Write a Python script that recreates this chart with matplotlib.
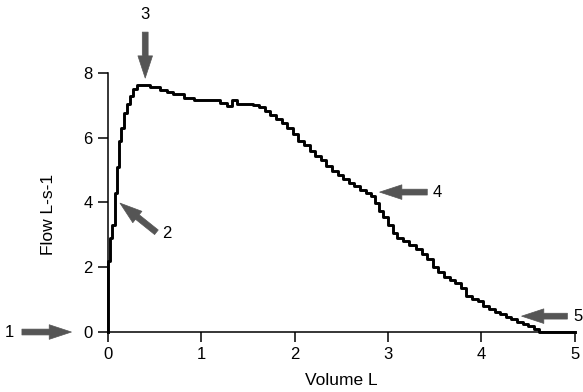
import matplotlib
matplotlib.use("Agg")
import matplotlib.pyplot as plt

plt.rcParams["font.family"] = ["Liberation Sans", "DejaVu Sans"]

# flow-volume loop (expiratory limb)
volume = [0.00, 0.00, 0.02, 0.04, 0.08, 0.10, 0.12, 0.14, 0.17, 0.20, 0.24, 0.27, 0.31,
          0.45, 0.56, 0.63, 0.70, 0.82, 0.92, 1.20, 1.28, 1.33, 1.38, 1.55, 1.62,
          1.68, 1.74, 1.80, 1.86, 1.92, 1.98, 2.04, 2.10, 2.16, 2.22, 2.28, 2.34,
          2.40, 2.46, 2.52, 2.58, 2.64, 2.70, 2.76, 2.82, 2.86, 2.90, 2.95, 3.00,
          3.05, 3.10, 3.16, 3.22, 3.30, 3.36, 3.42, 3.48, 3.54, 3.60, 3.66, 3.72,
          3.78, 3.84, 3.90, 3.96, 4.02, 4.08, 4.14, 4.20, 4.26, 4.32, 4.38, 4.44,
          4.50, 4.56, 4.62, 5.00]
flow = [0.0, 2.2, 2.9, 3.3, 4.3, 5.1, 5.9, 6.3, 6.75, 7.05, 7.3, 7.5, 7.62,
        7.57, 7.47, 7.40, 7.35, 7.22, 7.15, 7.08, 6.97, 7.15, 7.05, 7.02, 6.95,
        6.82, 6.7, 6.57, 6.45, 6.3, 6.1, 5.9, 5.78, 5.6, 5.45, 5.3, 5.12,
        4.98, 4.85, 4.72, 4.6, 4.5, 4.4, 4.3, 4.2, 3.98, 3.75, 3.55, 3.3,
        3.05, 2.9, 2.8, 2.7, 2.55, 2.4, 2.25, 2.0, 1.85, 1.7, 1.6, 1.5,
        1.35, 1.1, 1.02, 0.95, 0.8, 0.7, 0.62, 0.55, 0.47, 0.4, 0.32, 0.25,
        0.18, 0.1, 0.0, 0.0]

x_ticks = [0, 1, 2, 3, 4, 5]
y_ticks = [0, 2, 4, 6, 8]

# arrows: label, tail, tip, label position
arrows = [
    ("1", (-0.92, 0.0), (-0.39, 0.0), (-1.05, 0.0)),
    ("2", (0.52, 3.08), (0.13, 3.98), (0.63, 3.05)),
    ("3", (0.40, 9.26), (0.40, 7.84), (0.40, 9.80)),
    ("4", (3.42, 4.32), (2.91, 4.32), (3.53, 4.32)),
    ("5", (4.92, 0.49), (4.43, 0.49), (5.03, 0.49)),
]

fig = plt.figure(figsize=(5.83, 3.92), dpi=100)
ax = fig.add_axes([0.185, 0.153, 0.801, 0.661])

ax.plot(volume, flow, drawstyle="steps-post", color="black", lw=2.1,
        clip_on=False, zorder=3)

ax.set_xlim(0, 5)
ax.set_ylim(0, 8)
ax.set_xticks(x_ticks)
ax.set_yticks(y_ticks)
for s in ["top", "right"]:
    ax.spines[s].set_visible(False)
for s in ["left", "bottom"]:
    ax.spines[s].set_linewidth(1.1)
ax.tick_params(direction="out", length=7, width=1.1, labelsize=12, pad=4)

ax.set_xlabel("Volume L", fontsize=12.5)
ax.set_ylabel("Flow L-s-1", fontsize=12.5)
ax.xaxis.set_label_coords(0.5, -0.16)
ax.yaxis.set_label_coords(-0.11, 0.455)

for lab, tail, tip, pos in arrows:
    ax.annotate("", xy=tip, xytext=tail, annotation_clip=False,
                arrowprops=dict(arrowstyle="simple,head_width=1.05,head_length=1.6,tail_width=0.42",
                                fc="#555555", ec="#555555", lw=0.5,
                                shrinkA=0, shrinkB=0))
    ax.text(pos[0], pos[1], lab, fontsize=12, ha="center", va="center",
            clip_on=False)

fig.savefig("out.png", dpi=100)
